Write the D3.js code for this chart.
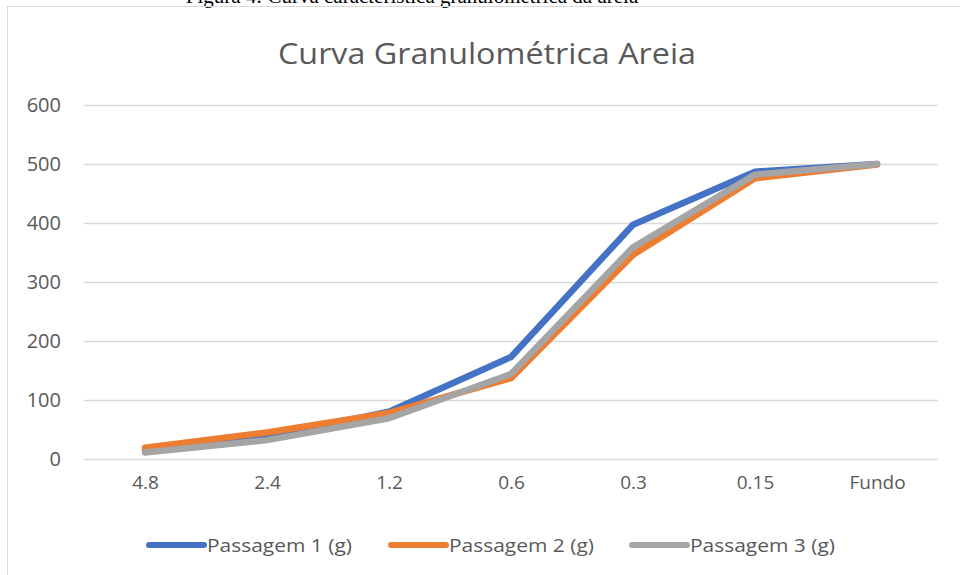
<!DOCTYPE html>
<html>
<head>
<meta charset="utf-8">
<script src="https://cdn.jsdelivr.net/npm/d3@7"></script>
<style>
  body { margin: 0; background: #fff; }
  text { font-family: "Open Sans", "Noto Sans", sans-serif; fill: #595959; }
</style>
</head>
<body>
<script>
// sieve openings (mm) used as categories
var peneiras = ["4.8", "2.4", "1.2", "0.6", "0.3", "0.15", "Fundo"];
// cumulative passing for each run
var passagem1 = [14, 38, 80, 173, 397, 487, 500];
var passagem2 = [19, 45, 78, 137, 346, 476, 499];
var passagem3 = [11, 32, 69, 144, 359, 482, 500];
var seriesNames = ["Passagem 1 (g)", "Passagem 2 (g)", "Passagem 3 (g)"];
var yTicks = [0, 100, 200, 300, 400, 500, 600];

var width = 960,
    height = 575;

var colors = ["#4472C4", "#ED7D31", "#A5A5A5"];

var svg = d3.select("body").append("svg")
    .attr("width", width)
    .attr("height", height);

// caption of the document, cut by the top edge (as in the scan)
svg.append("text")
    .attr("x", 412)
    .attr("y", 3)
    .attr("text-anchor", "middle")
    .style("font-family", "'Liberation Serif', serif")
    .style("font-size", "21px")
    .style("fill", "#000")
    .text("Figura 4: Curva característica granulométrica da areia");

// chart frame
svg.append("rect")
    .attr("x", 7.5)
    .attr("y", 6.5)
    .attr("width", 980)
    .attr("height", 600)
    .attr("fill", "none")
    .attr("stroke", "#d9d9d9");

// title
svg.append("text")
    .attr("x", 487)
    .attr("y", 64)
    .attr("text-anchor", "middle")
    .attr("textLength", 418)
    .attr("lengthAdjust", "spacingAndGlyphs")
    .style("font-size", "30px")
    .text("Curva Granulométrica Areia");

var x = d3.scalePoint()
    .domain(peneiras)
    .range([84, 938])
    .padding(0.5);

var y = d3.scaleLinear()
    .domain([0, 600])
    .range([459, 105]);

// gridlines
svg.append("g")
    .selectAll("line")
    .data(yTicks)
    .enter().append("line")
    .attr("x1", 84)
    .attr("x2", 938)
    .attr("y1", function(d) { return Math.round(y(d)) + 0.5; })
    .attr("y2", function(d) { return Math.round(y(d)) + 0.5; })
    .attr("stroke", "#d9d9d9")
    .attr("stroke-width", 1.3);

// y axis labels
var yAxis = svg.append("g")
    .attr("transform", "translate(84,0)")
    .call(d3.axisLeft(y).tickValues(yTicks).tickSize(0).tickPadding(23));
yAxis.select(".domain").remove();
yAxis.selectAll("text")
    .style("font-family", "'Open Sans', sans-serif")
    .style("font-size", "20px")
    .attr("fill", "#595959");

// x axis labels
var xAxis = svg.append("g")
    .attr("transform", "translate(0,459)")
    .call(d3.axisBottom(x).tickSize(0).tickPadding(17));
xAxis.select(".domain").remove();
xAxis.selectAll("text")
    .style("font-family", "'Open Sans', sans-serif")
    .style("font-size", "19px")
    .attr("fill", "#595959");

var line = d3.line()
    .x(function(d, i) { return x(peneiras[i]); })
    .y(function(d) { return y(d); });

var allSeries = [passagem1, passagem2, passagem3];

svg.append("g")
    .selectAll("path")
    .data(allSeries)
    .enter().append("path")
    .attr("d", line)
    .attr("fill", "none")
    .attr("stroke", function(d, i) { return colors[i]; })
    .attr("stroke-width", 6.5)
    .attr("stroke-linejoin", "round")
    .attr("stroke-linecap", "round");

// legend
var legendX = [149, 391, 632];
var legend = svg.append("g")
    .selectAll("g")
    .data(seriesNames)
    .enter().append("g")
    .attr("transform", function(d, i) { return "translate(" + legendX[i] + ",545)"; });

legend.append("line")
    .attr("x1", 0)
    .attr("x2", 55)
    .attr("stroke", function(d, i) { return colors[i]; })
    .attr("stroke-width", 6)
    .attr("stroke-linecap", "round");

legend.append("text")
    .attr("x", 58)
    .attr("y", 7)
    .attr("textLength", 145)
    .attr("lengthAdjust", "spacingAndGlyphs")
    .style("font-size", "19px")
    .text(function(d) { return d; });
</script>
</body>
</html>
